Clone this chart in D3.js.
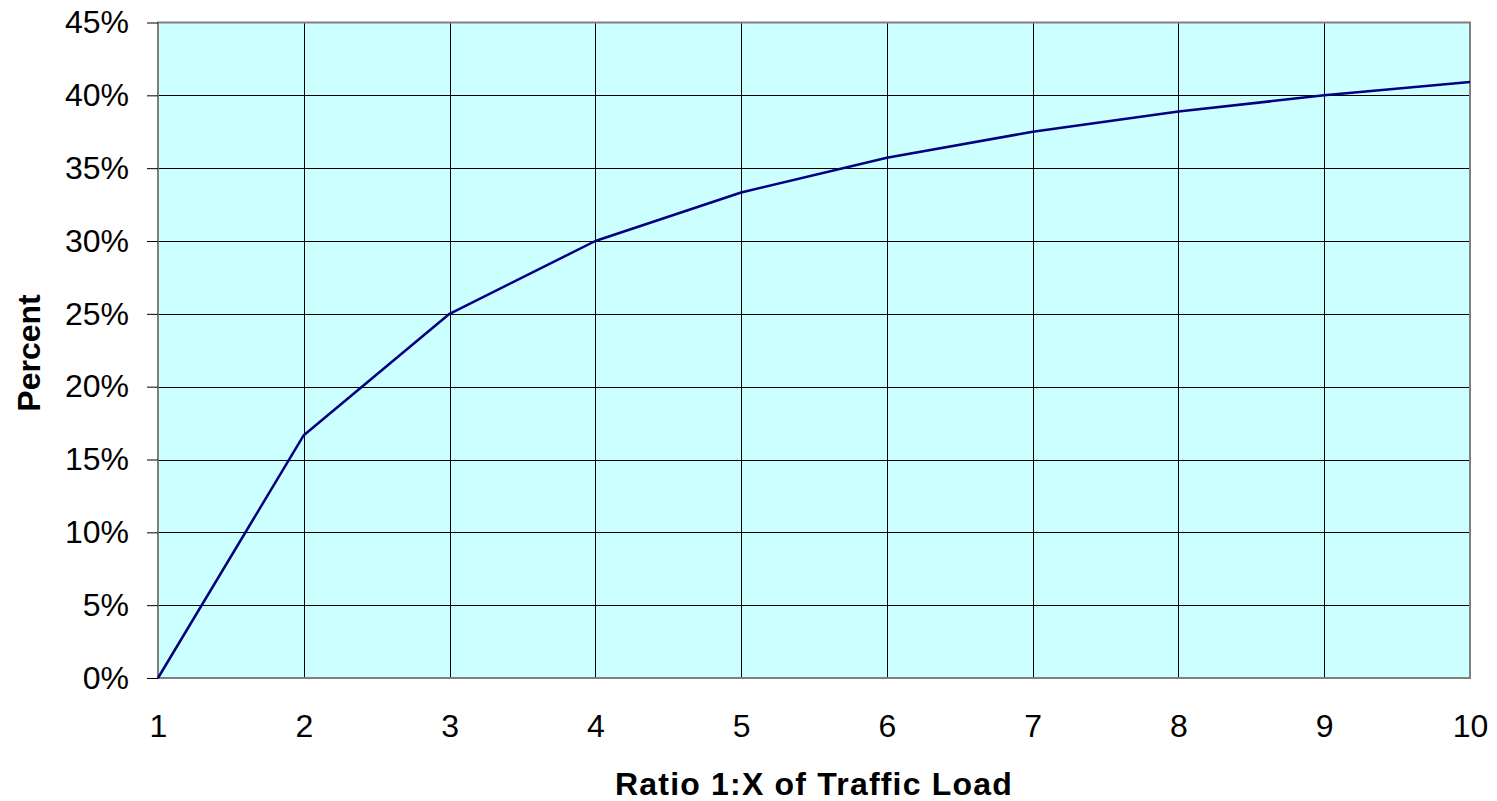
<!DOCTYPE html>
<html><head><meta charset="utf-8">
<script src="https://cdn.jsdelivr.net/npm/d3@7"></script>
<style>body{margin:0;background:#fff;}svg{display:block;font-family:"Liberation Sans",Arial,sans-serif;}</style>
</head><body>
<svg id="c" width="1497" height="801"></svg>
<script>
const ratios = [1,2,3,4,5,6,7,8,9,10];
const percents = [0, 16.67, 25, 30, 33.33, 35.71, 37.5, 38.89, 40, 40.91];
const yTicks = [0,5,10,15,20,25,30,35,40,45];
const xTitle = "Ratio 1:X of Traffic Load";
const yTitle = "Percent";

const svg = d3.select("#c");
const L=158, R=1470, T=22.5, B=678;
const x = d3.scaleLinear().domain([1,10]).range([L,R]);
const y = d3.scaleLinear().domain([0,45]).range([B,T]);
const FS = 32;

svg.append("rect").attr("x",L).attr("y",T).attr("width",R-L).attr("height",B-T).attr("fill","#CCFFFF");

svg.append("g").selectAll("line").data(yTicks.filter(d=>d>0 && d<45)).join("line")
  .attr("x1",L).attr("x2",R).attr("y1",d=>Math.round(y(d))+0.5).attr("y2",d=>Math.round(y(d))+0.5)
  .attr("stroke","#000").attr("stroke-width",1);
svg.append("g").selectAll("line").data(ratios.filter(d=>d>1 && d<10)).join("line")
  .attr("y1",T).attr("y2",B).attr("x1",d=>Math.round(x(d))+0.5).attr("x2",d=>Math.round(x(d))+0.5)
  .attr("stroke","#000").attr("stroke-width",1);

svg.append("rect").attr("x",L).attr("y",T).attr("width",R-L).attr("height",B-T)
  .attr("fill","none").attr("stroke","#808080").attr("stroke-width",2);

const yAxis = d3.axisLeft(y).tickValues(yTicks).tickFormat(d=>d+"%").tickSize(11).tickPadding(18);
const gy = svg.append("g").attr("transform",`translate(${L},0)`).call(yAxis);
gy.select(".domain").remove();
gy.attr("font-size",FS).attr("font-family","Liberation Sans, Arial, sans-serif");
gy.selectAll(".tick line").attr("stroke","#000");
gy.selectAll("text").attr("fill","#000");

const xAxis = d3.axisBottom(x).tickValues(ratios).tickFormat(d3.format("d")).tickSize(0).tickPadding(36);
const gx = svg.append("g").attr("transform",`translate(0,${B})`).call(xAxis);
gx.select(".domain").remove();
gx.attr("font-size",FS).attr("font-family","Liberation Sans, Arial, sans-serif");
gx.selectAll("text").attr("fill","#000");

const line = d3.line().x((d,i)=>x(ratios[i])).y(d=>y(d));
svg.append("path").datum(percents).attr("d",line).attr("fill","none")
  .attr("stroke","#000080").attr("stroke-width",2.5).attr("stroke-linejoin","round");

svg.append("text").attr("x",814).attr("y",795).attr("text-anchor","middle")
  .attr("font-size",FS).attr("font-weight","bold").attr("letter-spacing","1.2px").text(xTitle);
svg.append("text").attr("transform",`translate(40,353) rotate(-90)`).attr("text-anchor","middle")
  .attr("font-size",FS).attr("font-weight","bold").text(yTitle);
</script>
</body></html>
